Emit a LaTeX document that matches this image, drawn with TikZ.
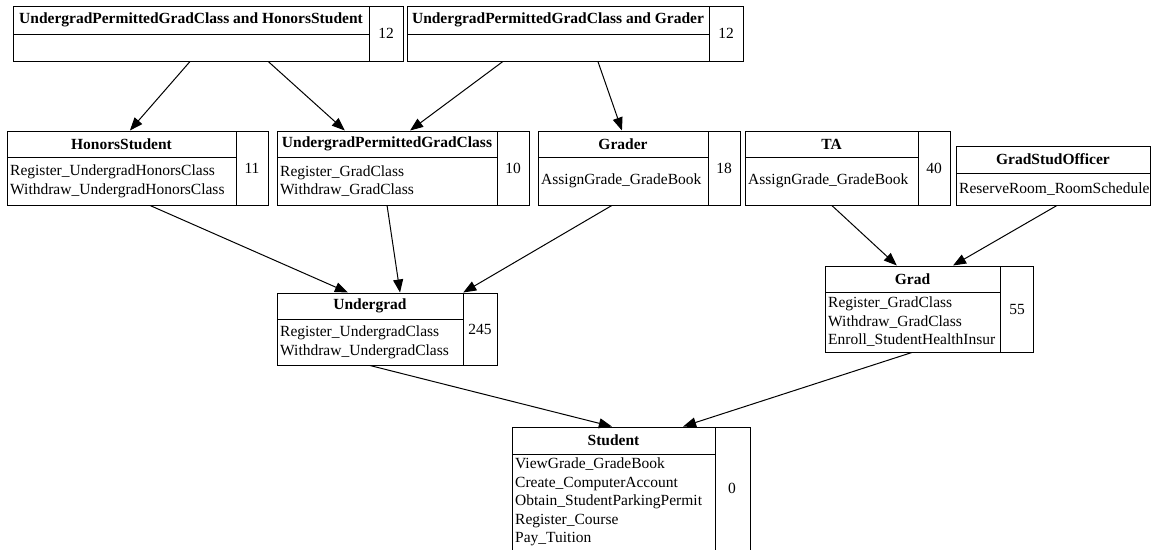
\documentclass[tikz,border=0pt]{standalone}
\usepackage{fontspec}
\setmainfont{Liberation Serif}
\usetikzlibrary{arrows.meta,calc}
\tikzset{
  outer/.style={draw, line width=1pt, inner sep=0pt, rectangle},
  sep/.style={line width=1pt},
  titletext/.style={font=\fontsize{15.5}{18.5}\selectfont\bfseries, inner sep=0pt},
  methtext/.style={font=\fontsize{15.5}{18.6}\selectfont, align=left, inner sep=0pt, anchor=west},
  numtext/.style={font=\fontsize{15.5}{18.5}\selectfont, inner sep=0pt},
  arr/.style={line width=1pt, -{Triangle[length=13pt,width=10pt]}}
}
% #1 name, #2 x1, #3 y1, #4 x2, #5 xdiv, #6 yhdr, #7 y2, #8 title, #9 methods
\newcommand\umlclass[9]{%
  \node[outer, minimum width={#4-#2}, minimum height={#7-#3}] (#1) at ({(#2+#4)/2},{(#3+#7)/2}) {};
  \draw[sep] (#5,#3) -- (#5,#7);
  \draw[sep] (#2,#6) -- (#5,#6);
  \node[titletext] (#1-t) at ({(#2+#5)/2},{(#3+#6)/2}) {#8};
  \node[methtext] (#1-m) at ({#2+3},{(#6+#7)/2}) {#9};
}
\begin{document}
\begin{tikzpicture}[x=1pt,y=-1pt]
\clip (0,0) rectangle (1155,549);
\useasboundingbox (0,0) rectangle (1155,549);

\umlclass{uh}{13}{6}{403}{369}{34}{61}{UndergradPermittedGradClass and HonorsStudent}{}
\node[numtext] (uh-n) at (386,33.5) {12};
\umlclass{ug}{407}{6}{743}{709}{34}{61}{UndergradPermittedGradClass and Grader}{}
\node[numtext] (ug-n) at (726,33.5) {12};

\umlclass{hs}{7}{131}{268}{236}{157}{205}{HonorsStudent}{Register\_UndergradHonorsClass\\Withdraw\_UndergradHonorsClass}
\node[numtext] (hs-n) at (252,168) {11};
\umlclass{upgc}{277}{131}{529}{497}{157}{205}{UndergradPermittedGradClass}{Register\_GradClass\\Withdraw\_GradClass}
\node[numtext] (upgc-n) at (513,168) {10};
\umlclass{gr}{538}{131}{740}{708}{157}{205}{Grader}{AssignGrade\_GradeBook}
\node[numtext] (gr-n) at (724,168) {18};
\umlclass{ta}{745}{131}{950}{918}{157}{205}{TA}{AssignGrade\_GradeBook}
\node[numtext] (ta-n) at (934,168) {40};
\umlclass{gso}{956}{146}{1150}{1150}{173}{205}{GradStudOfficer}{ReserveRoom\_RoomSchedule}

\umlclass{ud}{277}{293}{497}{463}{319}{365}{Undergrad}{Register\_UndergradClass\\Withdraw\_UndergradClass}
\node[numtext] (ud-n) at (480,329) {245};
\umlclass{gd}{825}{266}{1033}{1000}{292}{352}{Grad}{Register\_GradClass\\Withdraw\_GradClass\\Enroll\_StudentHealthInsur}
\node[numtext] (gd-n) at (1017,309) {55};
\umlclass{st}{512}{427}{750}{715}{454}{550}{Student}{ViewGrade\_GradeBook\\Create\_ComputerAccount\\Obtain\_StudentParkingPermit\\Register\_Course\\Pay\_Tuition}
\node[numtext] (st-n) at (732,488) {0};

\draw[arr] ($(uh.south west)!0.454!(uh.south east)$) -- ($(hs.north west)!0.471!(hs.north east)$);
\draw[arr] ($(uh.south west)!0.654!(uh.south east)$) -- ($(upgc.north west)!0.27!(upgc.north east)$);
\draw[arr] ($(ug.south west)!0.286!(ug.south east)$) -- ($(upgc.north west)!0.528!(upgc.north east)$);
\draw[arr] ($(ug.south west)!0.568!(ug.south east)$) -- ($(gr.north west)!0.416!(gr.north east)$);
\draw[arr] ($(hs.south west)!0.548!(hs.south east)$) -- ($(ud.north west)!0.323!(ud.north east)$);
\draw[arr] ($(upgc.south west)!0.437!(upgc.south east)$) -- ($(ud.north west)!0.559!(ud.north east)$);
\draw[arr] ($(gr.south west)!0.366!(gr.south east)$) -- ($(ud.north west)!0.845!(ud.north east)$);
\draw[arr] ($(ta.south west)!0.424!(ta.south east)$) -- ($(gd.north west)!0.346!(gd.north east)$);
\draw[arr] ($(gso.south west)!0.52!(gso.south east)$) -- ($(gd.north west)!0.615!(gd.north east)$);
\draw[arr] ($(ud.south west)!0.423!(ud.south east)$) -- ($(st.north west)!0.42!(st.north east)$);
\draw[arr] ($(gd.south west)!0.418!(gd.south east)$) -- ($(st.north west)!0.718!(st.north east)$);
\end{tikzpicture}
\end{document}
